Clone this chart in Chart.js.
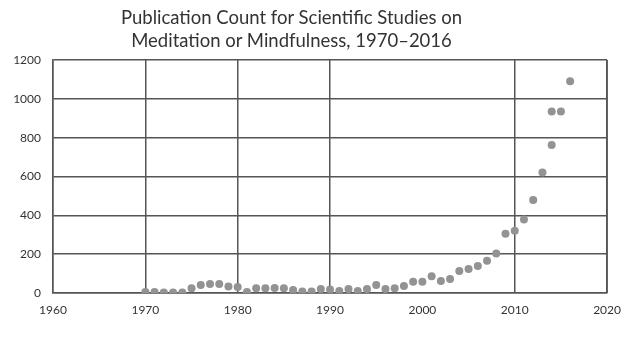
<!DOCTYPE html>
<html>
<head>
<meta charset="utf-8">
<script src="https://cdn.jsdelivr.net/npm/chart.js@4"></script>
<style>
  html, body { margin: 0; padding: 0; background: #fff; }
  #wrap { position: relative; width: 631px; height: 342px; }
  #title {
    position: absolute; left: 0; top: 6px; width: 583px;
    text-align: center; font-family: Lato, "Open Sans", sans-serif;
    font-size: 18.5px; line-height: 23px; color: #333;
  }
</style>
</head>
<body>
<div id="wrap">
  <canvas id="c" width="631" height="342"></canvas>
  <div id="title">Publication Count for Scientific Studies on<br>Meditation or Mindfulness, 1970–2016</div>
</div>
<script>
// publication year of each point (2014 shows up twice in the source)
var years = [1970, 1971, 1972, 1973, 1974, 1975, 1976, 1977, 1978, 1979,
             1980, 1981, 1982, 1983, 1984, 1985, 1986, 1987, 1988, 1989,
             1990, 1991, 1992, 1993, 1994, 1995, 1996, 1997, 1998, 1999,
             2000, 2001, 2002, 2003, 2004, 2005, 2006, 2007, 2008, 2009,
             2010, 2011, 2012, 2013, 2014, 2014, 2015, 2016];
// publication counts
var counts = [5, 5, 3, 3, 2, 24, 41, 46, 46, 34,
              31, 5, 24, 24, 26, 24, 15, 8, 8, 20,
              18, 10, 20, 10, 20, 41, 20, 24, 36, 58,
              58, 86, 62, 72, 113, 124, 139, 166, 204, 305,
              321, 378, 479, 620, 762, 935, 935, 1090];

var xTicks = [1960, 1970, 1980, 1990, 2000, 2010, 2020];
var yTicks = [0, 200, 400, 600, 800, 1000, 1200];

/* pair years and counts for the scatter */
var points = years.map(function (y, i) {
    return {x: y, y: counts[i]};
});

var lineColor = "#555";
var tickFont = {family: "Lato, 'Open Sans', sans-serif", size: 12};

/* plain numbers, no thousands separator */
var plainLabel = function (v) { return String(v); };

new Chart(document.getElementById("c"), {
    type: "scatter",
    data: {
        datasets: [{
            data: points,
            pointRadius: 4,
            pointHoverRadius: 4,
            pointBackgroundColor: "#939393",
            pointBorderWidth: 0
        }]
    },
    options: {
        responsive: false,
        animation: false,
        layout: {padding: {left: 0, right: 23, top: 60, bottom: 0}},
        plugins: {legend: {display: false}, tooltip: {enabled: false}},
        scales: {
            x: {
                type: "linear",
                min: xTicks[0],
                max: xTicks[xTicks.length - 1],
                afterBuildTicks: function (axis) {
                    axis.ticks = xTicks.map(function (v) { return {value: v}; });
                },
                afterFit: function (axis) { axis.height = 49; },
                grid: {
                    drawTicks: false,
                    lineWidth: 1.5,
                    // no vertical rule at 2000 in the original
                    color: function (ctx) {
                        return ctx.tick && ctx.tick.value === 2000 ? "rgba(0,0,0,0)" : lineColor;
                    }
                },
                border: {display: true, color: lineColor, width: 1.5},
                ticks: {color: "#333", font: tickFont, padding: 10, callback: plainLabel}
            },
            y: {
                min: yTicks[0],
                max: yTicks[yTicks.length - 1],
                afterBuildTicks: function (axis) {
                    axis.ticks = yTicks.map(function (v) { return {value: v}; });
                },
                afterFit: function (axis) { axis.width = 53; },
                grid: {drawTicks: false, lineWidth: 1.5, color: lineColor},
                border: {display: true, color: lineColor, width: 1.5},
                ticks: {color: "#333", font: tickFont, padding: 12, callback: plainLabel}
            }
        }
    },
    plugins: [{
        id: "rightBorder",
        afterDraw: function (chart) {
            var a = chart.chartArea, ctx = chart.ctx;
            ctx.save();
            ctx.strokeStyle = lineColor;
            ctx.lineWidth = 1.5;
            ctx.beginPath();
            ctx.moveTo(a.right, a.top);
            ctx.lineTo(a.right, a.bottom);
            ctx.stroke();
            ctx.restore();
        }
    }]
});
</script>
</body>
</html>
